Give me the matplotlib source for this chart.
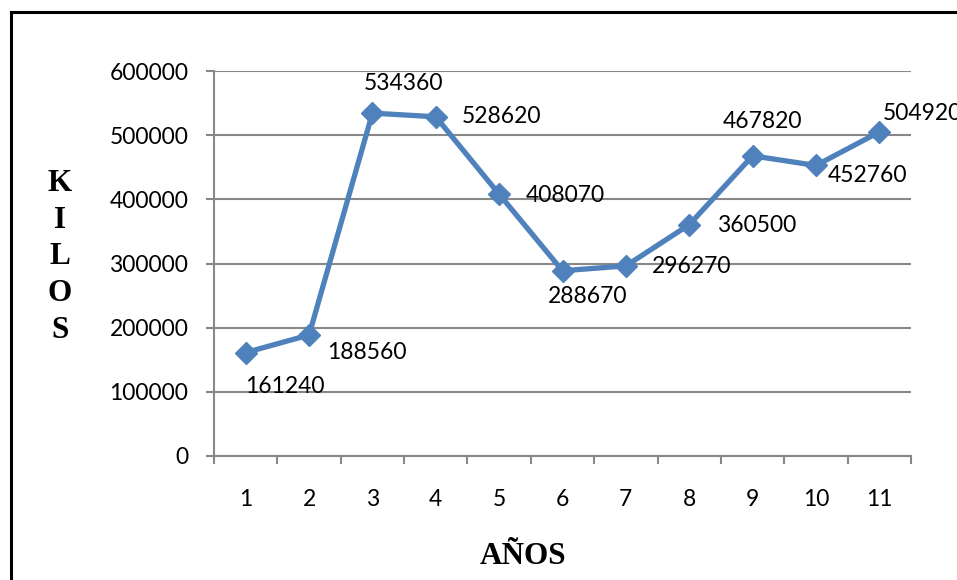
import matplotlib
matplotlib.use("Agg")
import matplotlib.pyplot as plt
from matplotlib.lines import Line2D

# Data
years = [1, 2, 3, 4, 5, 6, 7, 8, 9, 10, 11]
kilos = [161240, 188560, 534360, 528620, 408070, 288670, 296270, 360500, 467820, 452760, 504920]
y_ticks = [0, 100000, 200000, 300000, 400000, 500000, 600000]

# Per-point label offsets in pixels (dx, dy), dy positive is downward
label_offsets = [(39, 34), (58, 17), (31, -30), (66, 0), (66, 1), (25, 26),
                 (66, 1), (67, 1), (10, -34), (52, 10), (43, -19)]

DPI = 100
W, H = 957, 580
fig = plt.figure(figsize=(W / DPI, H / DPI), dpi=DPI)
fig.patch.set_facecolor("white")

num_font = "Lato"
num_size = 16.5
grid_col = "#888888"
line_col = "#4F81BD"

ax = fig.add_axes([214 / W, (H - 456) / H, (911 - 214) / W, (456 - 71) / H])
ax.set_xlim(0.5, 11.5)
ax.set_ylim(0, 600000)

ax.plot(years, kilos, color=line_col, lw=3.8, marker="D", ms=11,
        markerfacecolor=line_col, markeredgecolor=line_col, zorder=3,
        solid_joinstyle="miter")

for x, v, (dx, dy) in zip(years, kilos, label_offsets):
    ax.annotate(str(v), (x, v), xytext=(dx * 72 / DPI, -dy * 72 / DPI),
                textcoords="offset points", ha="center", va="center",
                fontfamily=num_font, fontsize=num_size, color="black",
                annotation_clip=False, zorder=4)

# Gridlines and axes
ax.set_yticks(y_ticks)
ax.set_yticklabels([str(t) for t in y_ticks])
ax.yaxis.grid(True, color=grid_col, lw=1.5)
ax.set_axisbelow(True)
ax.set_xticks(years)
ax.set_xticklabels([str(y) for y in years])
ax.set_xticks([i + 0.5 for i in range(0, 12)], minor=True)

for side in ("top", "right"):
    ax.spines[side].set_visible(False)
for side in ("left", "bottom"):
    ax.spines[side].set_color(grid_col)
    ax.spines[side].set_linewidth(1.5)

ax.tick_params(axis="y", which="major", length=5.5, width=1.5, color=grid_col,
               pad=13, labelsize=num_size)
ax.tick_params(axis="x", which="major", length=0, pad=24, labelsize=num_size)
ax.tick_params(axis="x", which="minor", length=5.5, width=1.5, color=grid_col)
for lab in ax.get_xticklabels() + ax.get_yticklabels():
    lab.set_fontfamily(num_font)

# Axis titles
fig.text(60 / W, 1 - 257 / H, "K\nI\nL\nO\nS", ha="center", va="center",
         fontfamily="Liberation Serif", fontweight="bold", fontsize=22.5,
         linespacing=1.35)
fig.text(523 / W, 1 - 556 / H, "AÑOS", ha="center", va="center",
         fontfamily="Liberation Serif", fontweight="bold", fontsize=22.5)

# Chart frame (left and top edges fall inside the image)
fig.add_artist(Line2D([11 / W, 11 / W], [0, 1 - 12 / H], transform=fig.transFigure,
                      color="black", lw=2.2))
fig.add_artist(Line2D([11 / W, 1], [1 - 12 / H, 1 - 12 / H], transform=fig.transFigure,
                      color="black", lw=2.2))

fig.savefig("out.png", dpi=DPI)
